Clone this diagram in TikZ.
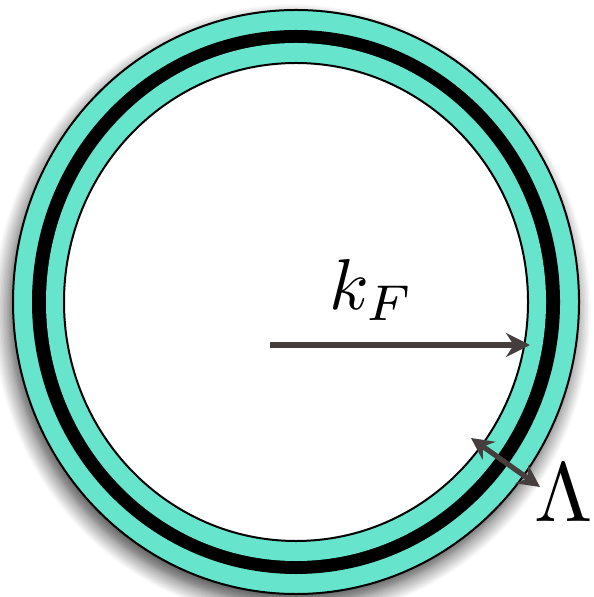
\documentclass[tikz,border=0pt]{standalone}
\usetikzlibrary{arrows.meta,shadows.blur}
\definecolor{ringteal}{RGB}{102,229,204}
\definecolor{arrowgray}{RGB}{69,62,60}
\begin{document}
\begin{tikzpicture}[x=0.5pt, y=-0.5pt, line width=1pt,
  vecarrow/.style={draw=arrowgray, line width=2.6pt, -{Stealth[length=12pt, width=12pt]}},
  bothvec/.style={draw=arrowgray, line width=2.6pt, {Stealth[length=11pt, width=11pt]}-{Stealth[length=11pt, width=11pt]}}]
  \useasboundingbox (0,0) rectangle (593,597);
  % shell
  \coordinate (c) at (296,302);
  \filldraw[fill=ringteal, draw=black, blur shadow={shadow xshift=-2pt, shadow yshift=-5pt, shadow blur radius=8pt, shadow blur steps=12, shadow opacity=75}]
    (c) ellipse [x radius=283, y radius=292];
  \fill[black] (c) ellipse [x radius=264, y radius=272];
  \fill[ringteal] (c) ellipse [x radius=250, y radius=259];
  \filldraw[fill=white, draw=black] (c) ellipse [x radius=232, y radius=239];
  % Fermi momentum
  \coordinate (kstart) at (270,345);
  \coordinate (kend) at (530,345);
  \draw[vecarrow] (kstart) -- (kend);
  \node[scale=3.6, inner sep=0pt] (kF) at (372,290) {$k_F$};
  % cutoff
  \coordinate (lamin) at (471,438);
  \coordinate (lamout) at (540,487);
  \draw[bothvec] (lamin) -- (lamout);
  \node[scale=4.2, inner sep=0pt] (lam) at (564,493) {$\Lambda$};
\end{tikzpicture}
\end{document}
